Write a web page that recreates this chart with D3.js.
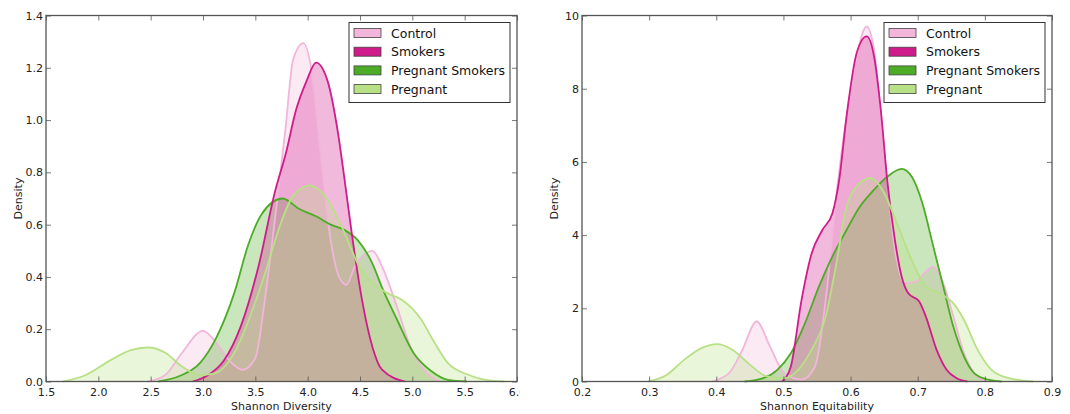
<!DOCTYPE html>
<html>
<head>
<meta charset="utf-8">
<script src="https://cdnjs.cloudflare.com/ajax/libs/d3/7.8.5/d3.min.js"></script>
<style>
  body { margin: 0; background: #fff; }
  svg { font-family: "DejaVu Sans", sans-serif; }
</style>
</head>
<body>
<svg id="chart" width="1070" height="414"></svg>
<script>
var groups = ["Control", "Smokers", "Pregnant Smokers", "Pregnant"];
var colors = ["#f1b6da", "#d01c8b", "#4dac26", "#b8e186"];
// order the shaded areas are laid down in (indices into groups)
var drawOrder = [0, 2, 1, 3];

// Shannon Diversity densities as [x, density]
var divControl = [[2.47,0],[2.64,0.025],[2.8,0.11],[3.0,0.194],[3.13,0.147],[3.26,0.077],[3.38,0.045],[3.5,0.09],[3.59,0.31],[3.69,0.63],[3.79,0.975],[3.86,1.23],[3.96,1.294],[4.04,1.18],[4.12,0.886],[4.22,0.54],[4.3,0.4],[4.37,0.37],[4.45,0.44],[4.55,0.49],[4.62,0.5],[4.71,0.44],[4.85,0.29],[4.98,0.134],[5.11,0.045],[5.26,0]];
var divSmokers = [[2.9,0],[3.03,0.02],[3.2,0.08],[3.36,0.21],[3.53,0.44],[3.69,0.73],[3.79,0.87],[3.89,1.04],[3.99,1.15],[4.08,1.22],[4.19,1.15],[4.29,0.95],[4.35,0.78],[4.42,0.57],[4.52,0.31],[4.62,0.13],[4.71,0.045],[4.93,0]];
var divPregSmokers = [[2.57,0],[2.77,0.02],[2.97,0.07],[3.13,0.17],[3.3,0.34],[3.43,0.52],[3.56,0.64],[3.76,0.7],[3.92,0.66],[4.09,0.63],[4.22,0.6],[4.35,0.58],[4.48,0.54],[4.62,0.45],[4.71,0.36],[4.85,0.24],[5.01,0.11],[5.18,0.04],[5.34,0.006],[5.52,0]];
var divPregnant = [[1.66,0],[1.88,0.025],[2.11,0.08],[2.31,0.12],[2.47,0.13],[2.64,0.11],[2.8,0.057],[2.97,0.025],[3.1,0.03],[3.3,0.11],[3.46,0.26],[3.59,0.41],[3.73,0.59],[3.86,0.71],[4.02,0.75],[4.19,0.695],[4.35,0.57],[4.48,0.45],[4.62,0.376],[4.75,0.34],[4.91,0.31],[5.08,0.24],[5.21,0.15],[5.34,0.07],[5.54,0.025],[5.7,0.006],[5.88,0]];

// Shannon Equitability densities
var eqControl = [[0.393,0],[0.419,0.23],[0.439,0.87],[0.46,1.64],[0.48,0.96],[0.501,0.23],[0.527,0.05],[0.547,0.41],[0.563,2.23],[0.578,4.96],[0.594,7.24],[0.609,8.88],[0.624,9.7],[0.635,9.06],[0.65,6.33],[0.666,3.6],[0.681,2.69],[0.697,2.73],[0.712,3.0],[0.722,3.14],[0.738,2.69],[0.753,1.78],[0.769,0.77],[0.784,0.23],[0.8,0]];
var eqSmokers = [[0.498,0],[0.511,0.41],[0.527,2.23],[0.542,3.5],[0.558,4.14],[0.573,4.6],[0.583,5.5],[0.594,7.24],[0.609,8.97],[0.624,9.43],[0.635,8.88],[0.645,7.42],[0.655,5.42],[0.666,3.87],[0.676,2.87],[0.686,2.41],[0.702,2.19],[0.712,1.78],[0.728,0.87],[0.743,0.32],[0.758,0.09],[0.774,0]];
var eqPregSmokers = [[0.442,0],[0.47,0.09],[0.491,0.32],[0.511,0.77],[0.532,1.59],[0.553,2.6],[0.573,3.42],[0.594,4.14],[0.614,4.78],[0.635,5.24],[0.655,5.6],[0.676,5.81],[0.691,5.6],[0.707,4.87],[0.722,3.78],[0.738,2.6],[0.753,1.5],[0.769,0.68],[0.784,0.23],[0.805,0.05],[0.825,0]];
var eqPregnant = [[0.298,0],[0.326,0.18],[0.352,0.59],[0.378,0.91],[0.401,1.02],[0.424,0.87],[0.45,0.46],[0.475,0.14],[0.501,0.09],[0.522,0.32],[0.542,0.87],[0.563,1.78],[0.578,3.14],[0.594,4.78],[0.609,5.33],[0.63,5.56],[0.65,5.15],[0.671,4.23],[0.691,3.32],[0.712,2.6],[0.733,2.41],[0.753,2.14],[0.769,1.68],[0.789,0.87],[0.81,0.32],[0.836,0.09],[0.872,0]];

var divTicksX = [1.5, 2.0, 2.5, 3.0, 3.5, 4.0, 4.5, 5.0, 5.5, 6.0];
var divTicksY = [0, 0.2, 0.4, 0.6, 0.8, 1.0, 1.2, 1.4];
var eqTicksX = [0.2, 0.3, 0.4, 0.5, 0.6, 0.7, 0.8, 0.9];
var eqTicksY = [0, 2, 4, 6, 8, 10];

var svg = d3.select("#chart");

svg.append("defs").append("clipPath").attr("id", "leftclip")
  .append("rect").attr("x", 0).attr("y", 0).attr("width", 520).attr("height", 414);

function drawPanel(opt) {
  var g = svg.append("g");
  if (opt.clip) g.attr("clip-path", "url(#" + opt.clip + ")");
  var x = d3.scaleLinear().domain(opt.xdom).range([opt.left, opt.right]);
  var y = d3.scaleLinear().domain(opt.ydom).range([opt.bottom, opt.top]);

  var area = d3.area().curve(d3.curveMonotoneX)
    .x(function(d) { return x(d[0]); })
    .y0(y(0))
    .y1(function(d) { return y(d[1]); });
  var line = d3.line().curve(d3.curveMonotoneX)
    .x(function(d) { return x(d[0]); })
    .y(function(d) { return y(d[1]); });

  // shaded areas first, outlines on top
  drawOrder.forEach(function(i) {
    g.append("path").datum(opt.series[i])
      .attr("d", area)
      .style("fill", colors[i])
      .style("fill-opacity", 0.3)
      .style("stroke", "none");
  });
  drawOrder.forEach(function(i) {
    g.append("path").datum(opt.series[i])
      .attr("d", line)
      .style("fill", "none")
      .style("stroke", colors[i])
      .style("stroke-width", 1.8);
  });

  // ticks on all four sides, pointing in
  var xb = d3.axisBottom(x).tickValues(opt.xticks).tickSizeInner(-5).tickSizeOuter(0).tickPadding(7).tickFormat(opt.xfmt);
  var xt = d3.axisTop(x).tickValues(opt.xticks).tickSizeInner(-5).tickSizeOuter(0).tickFormat("");
  var yl = d3.axisLeft(y).tickValues(opt.yticks).tickSizeInner(-5).tickSizeOuter(0).tickPadding(3).tickFormat(opt.yfmt);
  var yr = d3.axisRight(y).tickValues(opt.yticks).tickSizeInner(-5).tickSizeOuter(0).tickFormat("");

  [[xb, "translate(0," + opt.bottom + ")"], [xt, "translate(0," + opt.top + ")"],
   [yl, "translate(" + opt.left + ",0)"], [yr, "translate(" + opt.right + ",0)"]].forEach(function(a) {
    var ax = g.append("g").attr("transform", a[1]).call(a[0]);
    ax.select(".domain").remove();
    ax.selectAll("line").style("stroke", "#555").style("stroke-width", 0.8);
    ax.selectAll("text").style("font-size", "11px").style("fill", "#222").style("font-family", "DejaVu Sans, sans-serif");
  });

  g.append("rect")
    .attr("x", opt.left).attr("y", opt.top)
    .attr("width", opt.right - opt.left).attr("height", opt.bottom - opt.top)
    .style("fill", "none").style("stroke", "#555").style("stroke-width", 1.3);

  g.append("text")
    .attr("x", (opt.left + opt.right) / 2).attr("y", 410)
    .attr("text-anchor", "middle")
    .style("font-size", "11px").style("fill", "#222")
    .text(opt.xlabel);
  g.append("text")
    .attr("transform", "translate(" + (opt.left - 24) + "," + ((opt.top + opt.bottom) / 2) + ") rotate(-90)")
    .attr("text-anchor", "middle")
    .style("font-size", "11px").style("fill", "#222")
    .text("Density");

  // legend
  var lx = opt.right - 168, ly = opt.top + 7;
  var lg = g.append("g").attr("transform", "translate(" + lx + "," + ly + ")");
  lg.append("rect").attr("width", 161).attr("height", 80)
    .style("fill", "#fff").style("stroke", "#333").style("stroke-width", 1);
  groups.forEach(function(name, i) {
    var cy = 10.5 + i * 18.7;
    lg.append("rect").attr("x", 5).attr("y", cy - 4.5).attr("width", 27).attr("height", 9)
      .style("fill", colors[i]).style("stroke", "#444").style("stroke-width", 0.8);
    lg.append("text").attr("x", 42).attr("y", cy).attr("dy", "0.36em")
      .style("font-size", "12.5px").style("fill", "#111")
      .text(name);
  });
}

drawPanel({
  left: 46, right: 517, top: 15.5, bottom: 381.5,
  xdom: [1.5, 6.0], ydom: [0, 1.4],
  xticks: divTicksX, yticks: divTicksY,
  xfmt: d3.format(".1f"), yfmt: d3.format(".1f"),
  series: [divControl, divSmokers, divPregSmokers, divPregnant],
  xlabel: "Shannon Diversity", clip: "leftclip"
});

drawPanel({
  left: 582, right: 1052, top: 15.5, bottom: 381.5,
  xdom: [0.2, 0.9], ydom: [0, 10],
  xticks: eqTicksX, yticks: eqTicksY,
  xfmt: d3.format(".1f"), yfmt: d3.format("d"),
  series: [eqControl, eqSmokers, eqPregSmokers, eqPregnant],
  xlabel: "Shannon Equitability"
});
</script>
</body>
</html>
